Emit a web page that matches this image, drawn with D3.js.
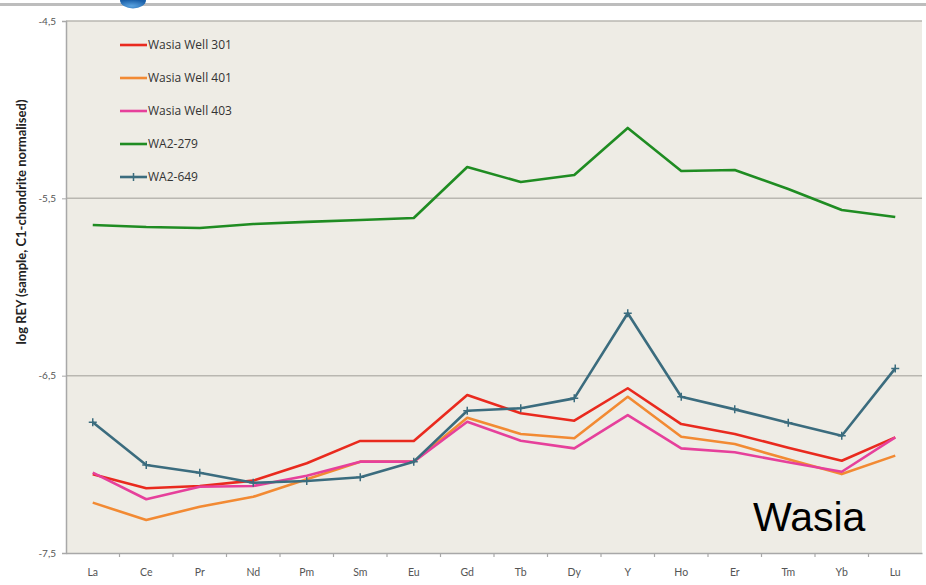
<!DOCTYPE html>
<html>
<head>
<meta charset="utf-8">
<script src="https://cdn.jsdelivr.net/npm/d3@7"></script>
<style>
  html, body { margin: 0; padding: 0; background: #ffffff; }
  svg { display: block; }
</style>
</head>
<body>
<svg id="chart" width="926" height="585"></svg>
<script>
// Rare-earth + yttrium elements along the x axis
const elements = ["La","Ce","Pr","Nd","Pm","Sm","Eu","Gd","Tb","Dy","Y","Ho","Er","Tm","Yb","Lu"];

// log REY values (sample, C1-chondrite normalised)
const wasiaWell301 = [-7.056,-7.135,-7.122,-7.092,-6.994,-6.868,-6.868,-6.609,-6.712,-6.754,-6.571,-6.773,-6.829,-6.906,-6.980,-6.848];
const wasiaWell401 = [-7.216,-7.314,-7.239,-7.183,-7.084,-6.985,-6.985,-6.737,-6.829,-6.853,-6.619,-6.844,-6.885,-6.972,-7.055,-6.951];
const wasiaWell403 = [-7.047,-7.197,-7.126,-7.122,-7.064,-6.985,-6.985,-6.760,-6.867,-6.910,-6.722,-6.910,-6.932,-6.988,-7.042,-6.848];
const wa2_279      = [-5.650,-5.662,-5.667,-5.645,-5.633,-5.622,-5.611,-5.323,-5.408,-5.368,-5.103,-5.346,-5.340,-5.447,-5.566,-5.605];
const wa2_649      = [-6.763,-7.004,-7.047,-7.104,-7.094,-7.073,-6.985,-6.698,-6.684,-6.628,-6.148,-6.619,-6.690,-6.765,-6.839,-6.459];

const seriesNames = ["Wasia Well 301","Wasia Well 401","Wasia Well 403","WA2-279","WA2-649"];
const seriesValues = [wasiaWell301, wasiaWell401, wasiaWell403, wa2_279, wa2_649];
const seriesColors = ["#e92a1e","#f28a33","#e6409b","#1f8c22","#3b6c7e"];
const seriesMarker = [false, false, false, false, true];

const yTicks = [-4.5, -5.5, -6.5, -7.5];
const yDomain = [-7.5, -4.5];

const W = 926, H = 585;
const margin = {top: 21, right: 4, bottom: 32, left: 66};

const svg = d3.select("#chart");

// slide header strip and logo edge
svg.append("rect").attr("x", 0).attr("y", 3).attr("width", W).attr("height", 3).attr("fill", "#bdbdbd");
const grad = svg.append("defs").append("radialGradient").attr("id", "logoGrad")
  .attr("cx", "45%").attr("cy", "70%").attr("r", "70%");
grad.append("stop").attr("offset", "0%").attr("stop-color", "#5aa3e0");
grad.append("stop").attr("offset", "100%").attr("stop-color", "#1a5fa8");
svg.append("path")
  .attr("d", "M120,0 A13,8.5 0 0 0 146,0 Z")
  .attr("fill", "url(#logoGrad)");

const x = d3.scaleBand().domain(elements).range([margin.left, W - margin.right]).paddingInner(0).paddingOuter(0);
const y = d3.scaleLinear().domain(yDomain).range([H - margin.bottom, margin.top]);

// plot area
svg.append("rect")
  .attr("x", margin.left).attr("y", margin.top)
  .attr("width", W - margin.right - margin.left).attr("height", H - margin.bottom - margin.top)
  .attr("fill", "#eeece5");

// horizontal grid lines
svg.append("g").selectAll("line").data(yTicks.filter(v => v !== yDomain[0])).join("line")
  .attr("x1", margin.left).attr("x2", W - margin.right)
  .attr("y1", d => y(d)).attr("y2", d => y(d))
  .attr("stroke", "#b9b7b1").attr("stroke-width", 1.5);

// y axis
const yAxis = d3.axisLeft(y).tickValues(yTicks).tickSize(4).tickPadding(6)
  .tickFormat(d => d3.format(".1f")(d).replace("−", "-").replace(".", ","));
const gy = svg.append("g").attr("transform", `translate(${margin.left},0)`).call(yAxis);
gy.select(".domain").attr("stroke", "#a8a8a8").attr("stroke-width", 1.5);
gy.selectAll(".tick line").attr("stroke", "#a8a8a8");
gy.selectAll(".tick text").attr("fill", "#555").attr("font-size", 10).attr("font-family", "Lato, 'Open Sans', sans-serif");

// x axis with ticks on category boundaries
const xAxis = d3.axisBottom(x).tickSize(0).tickPadding(16);
const gx = svg.append("g").attr("transform", `translate(0,${H - margin.bottom})`).call(xAxis);
gx.select(".domain").attr("stroke", "#a8a8a8").attr("stroke-width", 1.5);
gx.selectAll(".tick text").attr("fill", "#555").attr("font-size", 10.5).attr("font-family", "Lato, 'Open Sans', sans-serif");
gx.selectAll("line.boundary").data(elements.slice(1)).join("line").attr("class", "boundary")
  .attr("x1", d => x(d)).attr("x2", d => x(d)).attr("y1", 0).attr("y2", 4)
  .attr("stroke", "#a8a8a8").attr("stroke-width", 1.2);

// y axis title
svg.append("text")
  .attr("transform", `translate(26,222) rotate(-90)`)
  .attr("text-anchor", "middle")
  .attr("font-family", "Lato, 'Open Sans', sans-serif")
  .attr("font-weight", "bold").attr("font-size", 13).attr("fill", "#222")
  .text("log REY (sample, C1-chondrite normalised)");

// series lines
const cx = d => x(d) + x.bandwidth() / 2;
const line = d3.line().x((v, i) => cx(elements[i])).y(v => y(v));

seriesValues.forEach((vals, s) => {
  svg.append("path")
    .datum(vals)
    .attr("d", line)
    .attr("fill", "none")
    .attr("stroke", seriesColors[s])
    .attr("stroke-width", 2.6)
    .attr("stroke-linejoin", "round");
  if (seriesMarker[s]) {
    svg.append("g").selectAll("path").data(vals).join("path")
      .attr("d", (v, i) => {
        const px = cx(elements[i]), py = y(v);
        return `M${px - 4},${py}H${px + 4}M${px},${py - 4}V${py + 4}`;
      })
      .attr("stroke", seriesColors[s]).attr("stroke-width", 1.5);
  }
});

// legend
const legend = svg.append("g");
seriesNames.forEach((name, s) => {
  const ly = 45 + s * 33;
  legend.append("line").attr("x1", 120).attr("x2", 147).attr("y1", ly).attr("y2", ly)
    .attr("stroke", seriesColors[s]).attr("stroke-width", 2.6);
  if (seriesMarker[s]) {
    legend.append("path").attr("d", `M129.5,${ly}H137.5M133.5,${ly - 4}V${ly + 4}`)
      .attr("stroke", seriesColors[s]).attr("stroke-width", 1.5);
  }
  legend.append("text").attr("x", 148).attr("y", ly + 4)
    .attr("font-family", "'Open Sans', Lato, sans-serif").attr("font-size", 12)
    .attr("fill", "#333").text(name);
});

// panel label
svg.append("text").attr("x", 753).attr("y", 531)
  .attr("font-family", "'Liberation Sans', Arial, sans-serif").attr("font-size", 41)
  .attr("fill", "#000").text("Wasia");
</script>
</body>
</html>
